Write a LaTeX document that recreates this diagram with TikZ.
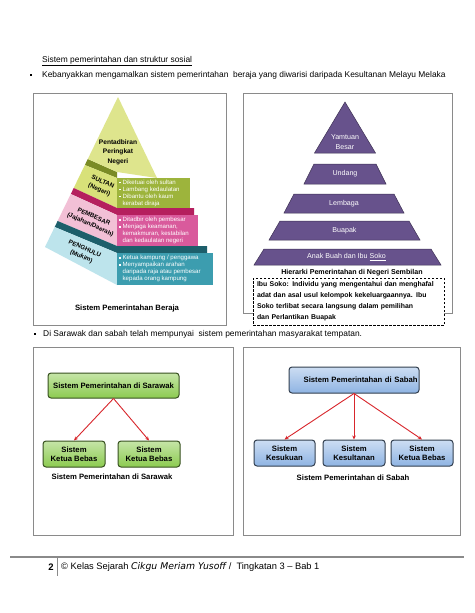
\documentclass[tikz,border=0pt]{standalone}
\usepackage{fontspec}
\setmainfont{Liberation Sans}
\newfontfamily\handfont{DejaVu Sans}
\usetikzlibrary{arrows.meta,calc}
\definecolor{CX}{HTML}{8A8A8A}
\definecolor{CY}{HTML}{D8E179}
\definecolor{CO}{HTML}{9DB43C}
\definecolor{CD}{HTML}{7A8B25}
\definecolor{CP}{HTML}{F2C0D6}
\definecolor{CM}{HTML}{D95A9C}
\definecolor{CK}{HTML}{B51F5E}
\definecolor{CC}{HTML}{BDE4EC}
\definecolor{CT}{HTML}{3C9DAF}
\definecolor{CE}{HTML}{1D5F6B}
\definecolor{CU}{HTML}{67528C}
\definecolor{CG}{HTML}{8CCB50}
\definecolor{CB}{HTML}{8FB4E3}
\definecolor{CA}{HTML}{D8262C}
\newcommand\fsz[2]{\fontsize{#1}{#2}\selectfont}
\newcommand\bsq{\rule[0.25ex]{0.55ex}{0.55ex}}
\tikzset{
	frame/.style = {draw=CX, line width=0.9pt},
	hd/.style    = {font=\fsz{8.4}{10}, anchor=west, inner sep=0pt},
	sqb/.style   = {fill=black, minimum size=2.6pt, inner sep=0pt},
	lay/.style   = {font=\bfseries\fsz{6.2}{8.4}, rotate=-24, align=center, inner sep=0pt},
	pt/.style    = {font=\fsz{6.1}{7}, text=white, align=left, anchor=west, inner sep=0pt},
	pu/.style    = {fill=CU, draw=CU!60!black, line width=0.5pt},
	pl/.style    = {font=\fsz{7.1}{10}, text=white, align=center, inner sep=0pt},
	captxt/.style = {font=\bfseries\fsz{7.7}{9}, inner sep=0pt},
	gbox/.style  = {draw=CG!40!black, line width=1pt, rounded corners=3pt,
		top color=CG!50!white, bottom color=CG, font=\bfseries\fsz{7.7}{9},
		align=center, inner sep=0pt},
	bbox/.style  = {draw=CB!35!black, line width=1pt, rounded corners=3pt,
		top color=CB!45!white, bottom color=CB, font=\bfseries\fsz{7.7}{9},
		align=center, inner sep=0pt},
	ar/.style    = {-{Stealth[length=4pt,width=3.6pt]}, draw=CA, line width=0.9pt},
}
\begin{document}
\begin{tikzpicture}[x=1pt, y=-1pt]
	\fill[white] (0,0) rectangle (474,613);
	\useasboundingbox (0,0) rectangle (474,613);
	
	%%═══════════════════════════════════════════════════════════════════
	%% HEADER
	%%═══════════════════════════════════════════════════════════════════
	\node[hd] (ttl) at (42,61) {\underline{Sistem pemerintahan dan struktur sosial}};
	\node[sqb] (b1) at (31,75) {};
	\node[hd] (l1) at (42,75)
	{Kebanyakkan mengamalkan sistem pemerintahan\ \ beraja yang diwarisi daripada Kesultanan Melayu Melaka};
	
	\draw[frame] (33,93) rectangle (226,325);
	\draw[frame] (243,93) rectangle (452,313);
	
	%% Pyramid: Sistem Pemerintahan Beraja ─────────────────────────────
	%% SULTAN
	\fill[CD] (87.8,159) -- (117,172) -- (117,178) -- (84.9,165) -- cycle;
	\fill[CY] (84.9,165) -- (117,178) -- (117,208) -- (73.7,188) -- cycle;
	\fill[CO] (117,178) rectangle (190,208);
	%% PEMBESAR
	\fill[CK] (73.7,188) -- (117,208) -- (194,208) -- (194,215) -- (117,215) -- (70.8,194) -- cycle;
	\fill[CP] (70.8,194) -- (117,215) -- (117,246) -- (57.6,221) -- cycle;
	\fill[CM] (117,215) rectangle (198,246);
	%% PENGHULU
	\fill[CE] (57.6,221) -- (117,246) -- (207,246) -- (207,253) -- (117,253) -- (54.7,227) -- cycle;
	\fill[CC] (54.7,227) -- (117,253) -- (117,285) -- (45,247) -- cycle;
	\fill[CT] (117,253) rectangle (213,285);
	%% top
	\fill[CY!85!white] (118,97) -- (87.8,159) -- (117,172) -- (157,178) -- cycle;
	
	\node[font=\bfseries\fsz{6.6}{9.5}, align=center, inner sep=0pt] (neg) at (118,152)
	{Pentadbiran\\Peringkat\\Negeri};
	\node[lay] (sul) at (101,186) {SULTAN\\(Negeri)};
	\node[lay] (pem) at (92,221) {PEMBESAR\\(Jajahan/Daerah)};
	\node[lay] (pen) at (83,253) {PENGHULU\\(Mukim)};
	
	\node[pt] (sult) at (119,193)
	{\bsq\ Diketuai oleh sultan\\\bsq\ Lambang kedaulatan\\\bsq\ Dibantu oleh kaum\\\phantom{\bsq\ }kerabat diraja};
	\node[pt] (pemt) at (119,230.5)
	{\bsq\ Ditadbir oleh pembesar\\\bsq\ Menjaga keamanan,\\\phantom{\bsq\ }kemakmuran, kestabilan\\\phantom{\bsq\ }dan kedaulatan negeri};
	\node[pt] (pent) at (119,268.5)
	{\bsq\ Ketua kampung / penggawa\\\bsq\ Menyampaikan arahan\\\phantom{\bsq\ }daripada raja atau pembesar\\\phantom{\bsq\ }kepada orang kampung};
	
	\node[captxt] (beraja) at (127,309) {Sistem Pemerintahan Beraja};
	
	%% Pyramid: Negeri Sembilan ────────────────────────────────────────
	\draw[pu] (345,102) -- (375.5,153) -- (314.5,153) -- cycle;
	\draw[pu] (314,164) -- (376,164) -- (386,184) -- (304,184) -- cycle;
	\draw[pu] (294,194) -- (394,194) -- (404,213) -- (284,213) -- cycle;
	\draw[pu] (280,221) -- (409,221) -- (420,240) -- (269,240) -- cycle;
	\draw[pu] (264,249) -- (431,249) -- (441,265) -- (254,265) -- cycle;
	
	\node[pl] (yam) at (345,142) {Yamtuan\\Besar};
	\node[pl] (und) at (345,174) {Undang};
	\node[pl] (lem) at (344,204) {Lembaga};
	\node[pl] (bua) at (344.5,231) {Buapak};
	\node[pl] (ana) at (346.5,257) {Anak Buah dan Ibu \underline{Soko}};
	
	\node[captxt, font=\bfseries\fsz{7.1}{9}] (hier) at (352,273)
	{Hierarki Pemerintahan di Negeri Sembilan};
	\node[draw, dashed, dash pattern=on 2.5pt off 1.5pt, line width=0.8pt, fill=white,
	minimum width=191pt, minimum height=47pt, text width=187pt, inner xsep=2pt,
	align=left, font=\bfseries\fsz{6.9}{11}] (soko) at (348.5,301.5)
	{\hspace*{2pt}Ibu Soko: Individu yang mengentahui dan menghafal\\
		\hspace*{2pt}adat dan asal usul kelompok kekeluargaannya. Ibu\\
		\hspace*{2pt}Soko terlibat secara langsung dalam pemilihan\\
		\hspace*{2pt}dan Perlantikan Buapak};
	
	%%═══════════════════════════════════════════════════════════════════
	%% SARAWAK & SABAH
	%%═══════════════════════════════════════════════════════════════════
	\node[sqb] (b2) at (35,334) {};
	\node[hd] (l2) at (43,334)
	{Di Sarawak dan sabah telah mempunyai\ \ sistem pemerintahan masyarakat tempatan.};
	
	\draw[frame] (33,347) rectangle (233,535);
	\draw[frame] (243,347) rectangle (460,535);
	
	%% Sarawak
	\node[gbox, minimum width=131pt, minimum height=25pt] (sw) at (113.5,385.5)
	{Sistem Pemerintahan di Sarawak};
	\node[gbox, minimum width=62pt, minimum height=26pt] (sw1) at (74,454)
	{Sistem\\Ketua Bebas};
	\node[gbox, minimum width=62pt, minimum height=26pt] (sw2) at (149,454)
	{Sistem\\Ketua Bebas};
	\draw[ar] (sw.south) -- (sw1.north);
	\draw[ar] (sw.south) -- (sw2.north);
	\node[captxt] (swc) at (112,477) {Sistem Pemerintahan di Sarawak};
	
	%% Sabah
	\node[bbox, minimum width=130pt, minimum height=26pt, text width=127pt,
	inner xsep=1.5pt, align=right] (sb) at (354,380)
	{Sistem Pemerintahan di Sabah};
	\node[bbox, minimum width=61pt, minimum height=26pt] (sb1) at (284.5,453)
	{Sistem\\Kesukuan};
	\node[bbox, minimum width=62pt, minimum height=26pt] (sb2) at (354,453)
	{Sistem\\Kesultanan};
	\node[bbox, minimum width=62pt, minimum height=26pt] (sb3) at (422,453)
	{Sistem\\Ketua Bebas};
	\draw[ar] (sb.south) -- (sb1.north);
	\draw[ar] (sb.south) -- (sb2.north);
	\draw[ar] (sb.south) -- (sb3.north);
	\node[captxt] (sbc) at (353,478) {Sistem Pemerintahan di Sabah};
	
	%%═══════════════════════════════════════════════════════════════════
	%% FOOTER
	%%═══════════════════════════════════════════════════════════════════
	\draw[CX, line width=1.3pt] (10,557) -- (464,557);
	\node[font=\bfseries\fsz{9.5}{11}, inner sep=0pt] (pg) at (51,567) {2};
	\draw[CX, line width=0.8pt] (57,557) -- (57,576);
	\node[hd, font=\fsz{9.3}{10}] (ft) at (61,567)
	{\textcopyright\ Kelas Sejarah {\handfont\itshape Cikgu Meriam Yusoff} /\ \ Tingkatan 3 -- Bab 1};
	
\end{tikzpicture}
\end{document}
